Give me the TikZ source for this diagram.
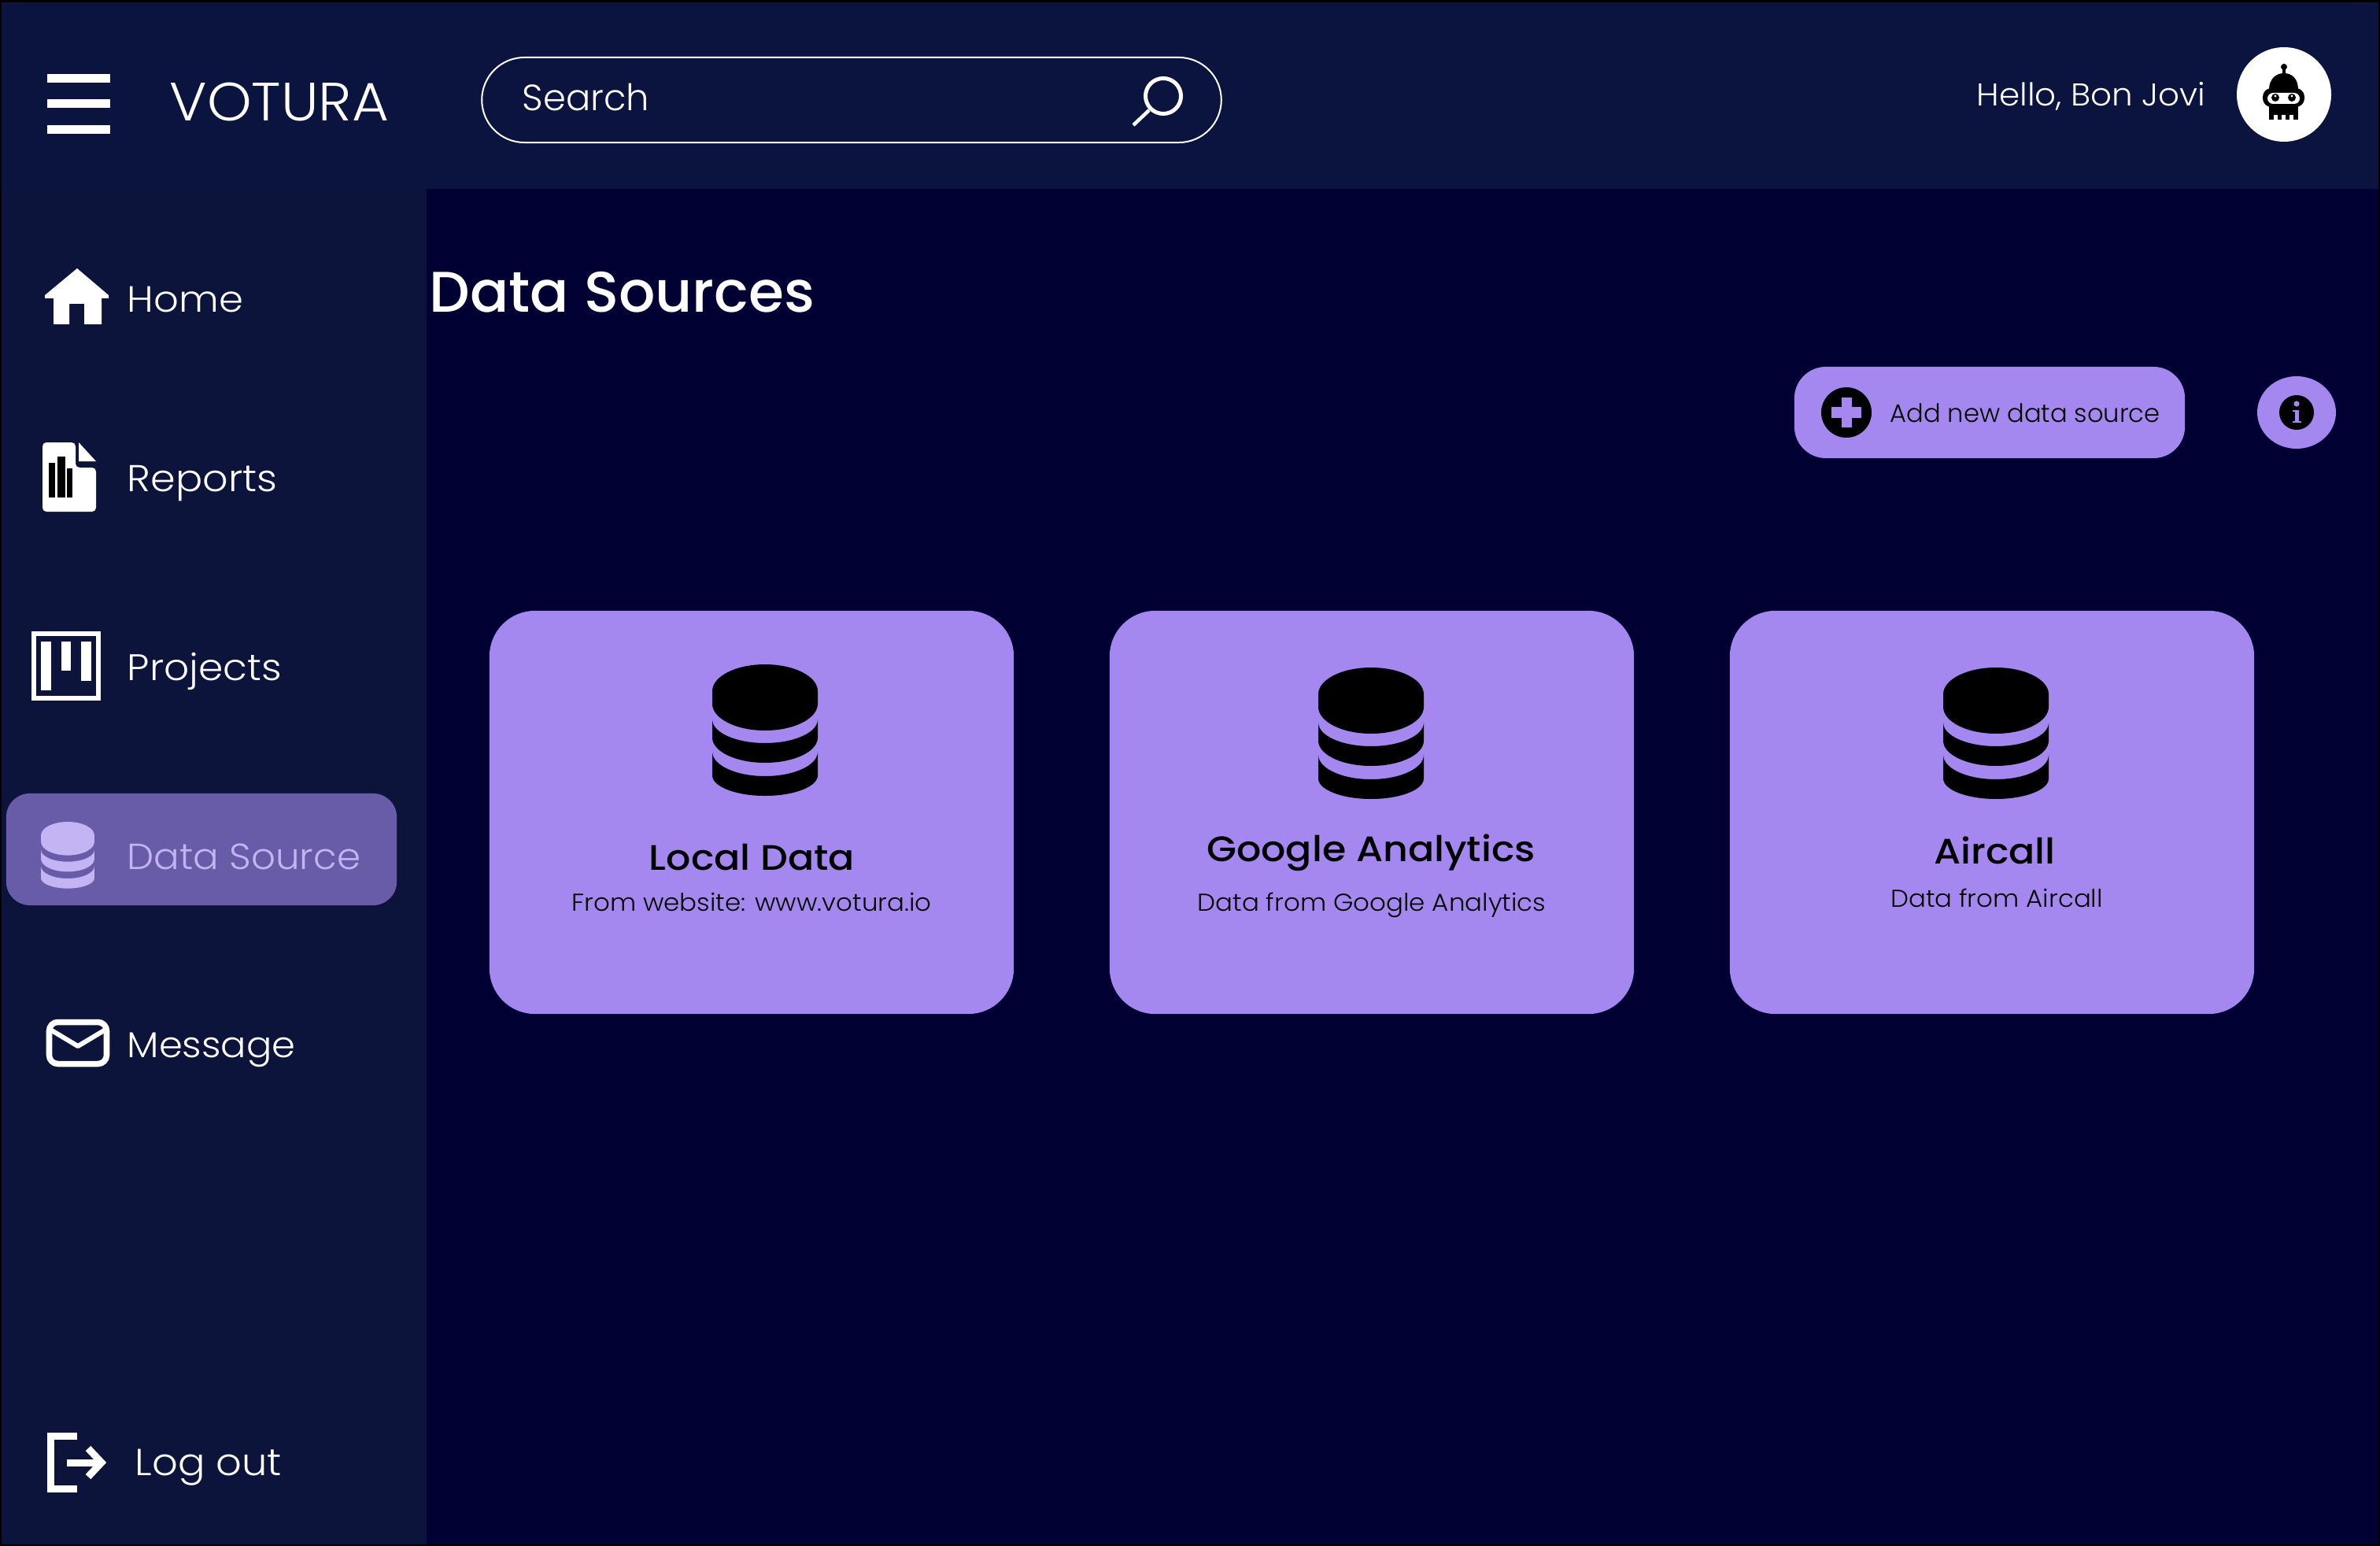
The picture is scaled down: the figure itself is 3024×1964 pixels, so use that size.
\documentclass[tikz,border=0pt]{standalone}
\usepackage{fontspec}
\setmainfont{Poppins}
\newfontfamily\thinfont{Poppins Light}
\newfontfamily\notefont{Poppins Light}[FakeStretch=1.05]
\newfontfamily\menufont{Poppins Light}[FakeStretch=1.07]
\newfontfamily\medfont{Poppins Medium}
\newfontfamily\cardfont{Poppins Medium}[FakeStretch=1.09]
\usetikzlibrary{positioning,shapes}

\definecolor{headerblue}{HTML}{0B133F}
\definecolor{sideblue}{HTML}{0C143B}
\definecolor{mainblue}{HTML}{000033}
\definecolor{cardpurple}{HTML}{A588EF}
\definecolor{pillpurple}{HTML}{685BA8}
\definecolor{palepurple}{HTML}{C4B4F4}

\tikzset{
	menutext/.style	= {anchor=base west, inner sep=0, text=white, font=\menufont\fontsize{13.2}{16}\selectfont},
	toptext/.style	= {anchor=base west, inner sep=0, text=white, font=\thinfont\fontsize{13.2}{16}\selectfont},
	cardbox/.style	= {fill=cardpurple, rounded corners=0.58cm, minimum width=6.66cm, minimum height=5.12cm, inner sep=0},
	cardtitle/.style	= {anchor=base, inner sep=0, text=black, font=\cardfont\fontsize{12.8}{16}\selectfont},
	cardnote/.style	= {anchor=base, inner sep=0, text=black, font=\notefont\fontsize{8.8}{11}\selectfont},
	dbicon/.pic	= {
		\fill [pic actions] (-67,34) arc [start angle=180, end angle=360, x radius=67, y radius=34] -- (67,50) arc [start angle=0, end angle=180, x radius=67, y radius=34] -- cycle;
		\fill [pic actions] (-67,70) arc [start angle=180, end angle=0, x radius=67, y radius=30] -- (67,93) arc [start angle=0, end angle=180, x radius=67, y radius=32] -- cycle;
		\fill [pic actions] (-67,111) arc [start angle=180, end angle=0, x radius=67, y radius=31] -- (67,141) arc [start angle=0, end angle=180, x radius=67, y radius=26] -- cycle;
	},
}

\begin{document}
\begin{tikzpicture}
[
	x	= 0.01cm,	% one unit is one pixel of the screen
	y	= -0.01cm,	% and y runs down the screen
]

\useasboundingbox (0,0) rectangle (3024,1964);

% panels
\fill [black] (0,0) rectangle (3024,1964);
\fill [sideblue] (2,3) rectangle (3022,1962);
\fill [headerblue] (2,3) rectangle (3022,240);
\fill [mainblue] (542,240) rectangle (3022,1962);

% top bar
\fill [white] (60,94) rectangle (140,105);
\fill [white] (60,126) rectangle (140,137);
\fill [white] (60,159) rectangle (140,170);
\node (brand) [toptext, font=\notefont\fontsize{19.5}{22}\selectfont] at (215,154) {VOTURA};
\node (searchbox) [draw=white, line width=0.02cm, rounded corners=0.54cm, minimum width=9.39cm, minimum height=1.08cm, inner sep=0] at (1082,127) {};
\node (searchtext) [toptext] at (663,141) {Search};
\draw [white, line width=0.05cm] (1478,122) circle (22.5);
\draw [white, line width=0.045cm] (1460,140) -- (1440,159);
\node (hello) [toptext, font=\notefont\fontsize{11.4}{14}\selectfont] at (2511,135) {Hello, Bon Jovi};

% avatar
\fill [white] (2902,120) circle (60);
\fill [black] (2902,85) circle (4);
\fill [black] (2900,85) rectangle (2904,97);
\fill [black] (2883,114) .. controls (2883,100) and (2892,93) .. (2902,93) .. controls (2912,93) and (2920,100) .. (2920,114) -- cycle;
\fill [black, rounded corners=0.11cm] (2875,112) rectangle (2928,136);
\fill [black] (2883,130) rectangle (2920,152);
\fill [white, rounded corners=0.07cm] (2881,118) rectangle (2922,132);
\fill [black] (2891,124) circle (5);
\fill [black] (2912,124) circle (5);
\fill [white] (2891,122) circle (1.6);
\fill [white] (2912,122) circle (1.6);
\fill [white] (2889,146) rectangle (2894,152);
\fill [white] (2899,146) rectangle (2904,152);
\fill [white] (2909,146) rectangle (2914,152);

% side menu
\fill [white] (98,341) -- (138,375) -- (138,379) -- (129,379) -- (129,412) -- (107,412) -- (107,386) -- (88,386) -- (88,412) -- (68,412) -- (68,379) -- (57,379) -- (57,375) -- cycle;
\node (home) [menutext] at (161,397) {Home};

\fill [white, rounded corners=0.05cm] (54,562) -- (96,562) -- (96,594) -- (122,594) -- (122,650) -- (54,650) -- cycle;
\fill [white] (100,562) -- (122,586) -- (100,586) -- cycle;
\fill [black] (62,588) rectangle (70,632);
\fill [black] (73,580) rectangle (83,632);
\fill [black] (85,595) rectangle (92,632);
\node (reports) [menutext, font=\menufont\fontsize{13.5}{16}\selectfont] at (161,624) {Reports};

\draw [white, line width=0.06cm] (43,805) rectangle (125,887);
\fill [white] (52,815) rectangle (65,877);
\fill [white] (78,815) rectangle (90,852);
\fill [white] (103,815) rectangle (116,865);
\node (projects) [menutext, font=\menufont\fontsize{13.35}{16}\selectfont] at (161,864) {Projects};

\node (datapill) [fill=pillpurple, rounded corners=0.3cm, minimum width=4.96cm, minimum height=1.42cm, inner sep=0] at (256,1079) {};
\pic [fill=palepurple, scale=0.507] at (86,1044) {dbicon};
\node (datasource) [menutext, text=palepurple, font=\notefont\fontsize{13.1}{16}\selectfont] at (161,1104) {Data Source};

\draw [white, line width=0.075cm, rounded corners=0.11cm] (62.5,1298.5) rectangle (135.5,1351.5);
\draw [white, line width=0.06cm, line join=round] (64,1308) -- (99,1329) -- (134,1308);
\node (message) [menutext, font=\notefont\fontsize{13}{16}\selectfont] at (161,1343) {Message};

\draw [white, line width=0.09cm] (98,1824.5) -- (64.5,1824.5) -- (64.5,1891.5) -- (98,1891.5);
\draw [white, line width=0.09cm] (85,1858) -- (126,1858);
\draw [white, line width=0.09cm] (112,1840) -- (129,1858) -- (112,1876);
\node (logout) [menutext, font=\menufont\fontsize{13.6}{16}\selectfont] at (171,1874) {Log out};

% main area
\node (pagetitle) [anchor=base west, inner sep=0, text=white, font=\medfont\fontsize{20.7}{24}\selectfont] at (545,397) {Data Sources};

\node (addbutton) [fill=cardpurple, rounded corners=0.4cm, minimum width=4.96cm, minimum height=1.16cm, inner sep=0] at (2528,524) {};
\fill [black] (2346,524) circle (32);
\fill [cardpurple] (2327,517.5) rectangle (2365,530.5);
\fill [cardpurple] (2339.5,505) rectangle (2352.5,543);
\node (addtext) [anchor=base west, inner sep=0, text=black, font=\thinfont\fontsize{9.15}{12}\selectfont] at (2401,536) {Add new data source};

\fill [cardpurple] (2918,524) ellipse (50 and 46);
\node (infodot) [circle, fill=black, minimum size=0.44cm, inner sep=0] at (2918,524) {};
\fill [cardpurple] (2918,513) circle (3.6);
\fill [cardpurple] (2915.5,521) rectangle (2920.5,537);
\fill [cardpurple] (2912.5,521) rectangle (2920.5,523.5);
\fill [cardpurple] (2912.5,534.5) rectangle (2923.5,537);

% cards
\node (localcard) [cardbox] at (955,1032) {};
\pic [fill=black] at (972,844) {dbicon};
\node (localtitle) [cardtitle] at (955.5,1105) {Local Data};
\node (localnote) [cardnote] at (955,1157) {From website: www.votura.io};

\node (googlecard) [cardbox] at (1743,1032) {};
\pic [fill=black] at (1742,848) {dbicon};
\node (googletitle) [cardtitle] at (1742,1094) {Google Analytics};
\node (googlenote) [cardnote] at (1743,1157) {Data from Google Analytics};

\node (aircard) [cardbox] at (2531,1032) {};
\pic [fill=black] at (2536,848) {dbicon};
\node (airtitle) [cardtitle] at (2534.5,1097) {Aircall};
\node (airnote) [cardnote] at (2537,1152) {Data from Aircall};

\end{tikzpicture}
\end{document}
